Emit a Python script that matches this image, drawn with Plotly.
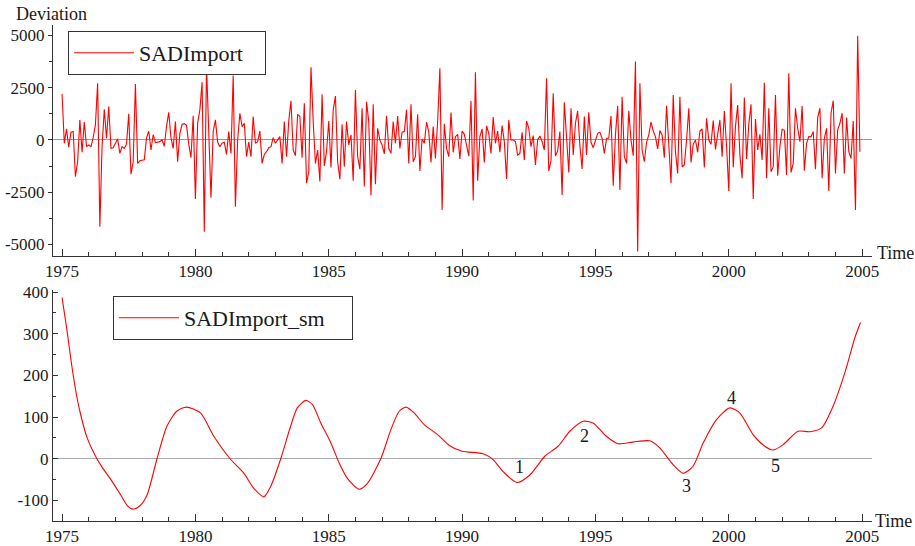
import numpy as np
import plotly.graph_objects as go

# ---------------- data ----------------
sadimport = [
    2200, -160, 530, -350, 370, 410, -1750, -1040, 960, -590,
    860, -320, -240, -320, 110, 720, 2710, -4150, -300, 1470,
    80, 1600, -400, -370, -160, 50, -640, -320, -400, -200,
    1250, -1640, -1050, 2680, -1120, -990, -970, -950, 100, 420,
    -480, 250, -130, -100, -80, 0, -300, 650, 1320, 100,
    -400,
    880, -1040, 300, 750, 780, 700, -200, -850, 1160, -2820,
    800, 1440, 2760, -4390, 3560, 300, -2760, 400, 960, -100,
    -320, -150, -110, -690, 400, -640, 3080, -3190, 0, 1280,
    640, 800, -800, -100, -800, 1120, -160, -80, 430, -1120,
    -690, -560, -370, -320, 110, -160, 0, 160, -1120, 880,
    -800, 900, 1870,
    -480, -750, 1230, 1120, -850, 1750, -2070, -1520, 3480, 880,
    -1120, -480, -1990, 2190, -1240, -560, 910, -1310, 1440, 2100,
    -1040, -1880, 750, -1280, 880, -240, 240, -1950, 2390, -800,
    -1400, 1520, -2230, 1830, 880, -2660, 1710, -2120, 560, 0,
    -240, -670, 1160, -400, -640, 880, -160, 1150, -400, 370,
    400, 1440,
    -1120, 1710, -1040, -800, 1230, -1480, 50, -160, 850, 400,
    -1070, 640, -880, 900, 3430, -3350, 770, -400, -800, 1310,
    -590, 160, 270, -910, 430, 270, -240, -770, 1870, -2900,
    3240, -1950, 160, 530, -1070, 670, 320, -640, 1100, -160,
    430, -590, 690, -80, -1870, 960, 0, 0, -80, -720,
    -640, 370,
    -960, 910, 560, -320, 210, -1200, 0, 190, -80, -480,
    2950, -1480, -1000, 2230, -770, -530, 400, -2630, 1800, 80,
    -1550, 1520, -720, 800, 1390, -270, -1390, 1120, -720, 1320,
    -110, -370, 0, 320, 370, 80, -640, 80, 80, 1150,
    -2190, 240, 1640, -2390, 2070, -800, -1120, 1400, 0, -750,
    3750, -5340,
    2710, -480, -1040, -110, 240, 850, 430, 160, -430, 450,
    240, -850, 1640, -200, -2070, 2150, -560, -1600, 2070, -1280,
    -1200, 0, 1520, -1080, -210, 0, -590, 430, 530, -1320,
    1040, 0, -210, 930, -450, 270, 960, -800, 1390, -300,
    -2440, 2710, -1310, 640, 1670, -720, -1830, 2030, -910, 750,
    1710, -2820,
    1000, -480, 270, -960, 2740, -1830, 1520, -1520, -1280, 2150,
    -1710, -320, 510, 460, -1670, 3190, -1550, -1120, 1520, 560,
    -80, 1630, -1470, -160, 160, 160, 400, -1400, 1070, 1520,
    -1830, 80, 560, -2440, 1280, 1880, -1600, 480, 800, 1280,
    -1600, 1070, -560, -880, 910, -3350, 4990, -560,
]
assert len(sadimport) == 360
start_year = 1975
months = start_year + np.arange(len(sadimport)) / 12.0

sm_years = [1975.0, 1975.18, 1975.36, 1975.55, 1975.7, 1975.93, 1976.24, 1976.5,
            1976.8, 1977.2, 1977.45, 1977.66, 1977.9,
            1978.18, 1978.56, 1978.93, 1979.3, 1979.66, 1980.19, 1980.69, 1981.3,
            1981.82, 1982.19, 1982.57, 1982.82, 1983.2, 1983.57, 1983.82, 1984.14,
            1984.39, 1984.7, 1985.08, 1985.39, 1985.7, 1986.14, 1986.45, 1986.95,
            1987.33, 1987.64, 1987.9, 1988.2, 1988.58, 1989.08, 1989.52, 1990.0,
            1990.79, 1991.16, 1991.54, 1992.06, 1992.54, 1993.1, 1993.6, 1994.04,
            1994.54, 1994.91, 1995.41, 1995.85, 1996.41, 1997.04, 1997.41, 1997.91,
            1998.29, 1998.66, 1999.04, 1999.54, 2000.04, 2000.41, 2000.91, 2001.35,
            2001.66, 2002.04, 2002.6, 2003.04, 2003.48, 2003.91, 2004.35, 2004.73,
            2004.94]
sm_vals = [387, 310, 225, 150, 105, 52, 8, -20,
           -47, -87, -113, -121, -114,
           -88, 0, 78, 114, 124, 110, 54, 0,
           -35, -71, -91, -67, 0, 78, 122, 140,
           130, 86, 38, -10, -47, -73, -59, 0,
           70, 114, 124, 110, 82, 58, 32, 18,
           12, -2, -31, -57, -39, 6, 30, 66,
           90, 86, 54, 36, 40, 43, 26, -14,
           -35, -18, 38, 94, 122, 110, 58, 30,
           21, 34, 66, 65, 74, 126, 206, 291,
           327]
assert len(sm_years) == len(sm_vals)

x_ticks = [1975, 1980, 1985, 1990, 1995, 2000, 2005]
y1_ticks = [-5000, -2500, 0, 2500, 5000]
y1_text = ["-5000", "-2500", "0", "2500", "5000"]
y2_ticks = [-100, 0, 100, 200, 300, 400]
y2_text = ["-100", "0", "100", "200", "300", "400"]

num_labels = ["1", "2", "3", "4", "5"]
num_x = [1992.15, 1994.6, 1998.42, 2000.1, 2001.75]
num_y = [-19, 55, -65, 147, -18]

# ---------------- figure ----------------
FONT = "'Liberation Serif', 'Times New Roman', Times, serif"
AX = "#333333"
TXT = "#1a1a1a"
W, H = 915, 546
L, R = 53, 43

def py(p):  # pixel y -> paper fraction (t=b=0 margins)
    return (H - p) / H

def px(p):
    return (p - L) / (W - L - R)

fig = go.Figure()
fig.add_trace(go.Scatter(
    x=months, y=sadimport, mode="lines", name="SADImport" + "\u00a0" * 3,
    line=dict(color="#ff0000", width=1.1), xaxis="x", yaxis="y", legend="legend"))
fig.add_trace(go.Scatter(
    x=sm_years, y=sm_vals, mode="lines", name="SADImport_sm" + "\u00a0" * 4,
    line=dict(color="#ff0000", width=1.1, shape="spline", smoothing=0.7),
    xaxis="x2", yaxis="y2", legend="legend2"))

xcommon = dict(
    range=[1974.66, 2005.37], tickmode="array", tickvals=x_ticks,
    ticks="inside", ticklen=7, tickcolor=AX, tickwidth=1,
    minor=dict(dtick=1, tick0=1975, ticks="inside", ticklen=4, tickcolor=AX),
    showline=True, linecolor=AX, linewidth=1, showgrid=False, zeroline=False,
    tickfont=dict(family=FONT, size=17, color=TXT), automargin=False,
)
fig.update_layout(
    font=dict(family=FONT, color=TXT),
    xaxis=dict(domain=[0, 1], anchor="y", **xcommon),
    xaxis2=dict(domain=[0, 1], anchor="y2", **xcommon),
    yaxis=dict(domain=[py(256), py(25)], anchor="x", range=[-5550, 5500],
               tickmode="array", tickvals=y1_ticks, ticktext=y1_text,
               ticks="outside", ticklen=4, tickcolor=AX,
               minor=dict(dtick=1250, tick0=0, ticks="outside", ticklen=3, tickcolor=AX),
               showline=True, linecolor=AX, linewidth=1, showgrid=False,
               zeroline=True, zerolinecolor="#999999", zerolinewidth=1,
               tickfont=dict(family=FONT, size=17, color=TXT), automargin=False),
    yaxis2=dict(domain=[py(521), py(290)], anchor="x2", range=[-149.4, 405],
                tickmode="array", tickvals=y2_ticks, ticktext=y2_text,
                ticks="inside", ticklen=5, tickcolor=AX,
                minor=dict(dtick=50, tick0=0, ticks="inside", ticklen=3, tickcolor=AX),
                showline=True, linecolor=AX, linewidth=1, showgrid=False,
                zeroline=True, zerolinecolor="#aaaaaa", zerolinewidth=1.2,
                tickfont=dict(family=FONT, size=17, color=TXT), automargin=False),
    legend=dict(x=px(68), y=py(31), xanchor="left", yanchor="top",
                bordercolor=AX, borderwidth=1, bgcolor="white", itemwidth=60,
                font=dict(family=FONT, size=22, color=TXT)),
    legend2=dict(x=px(113), y=py(296), xanchor="left", yanchor="top",
                 bordercolor=AX, borderwidth=1, bgcolor="white", itemwidth=60,
                 font=dict(family=FONT, size=22, color=TXT)),
    width=W, height=H, margin=dict(l=L, r=R, t=0, b=0),
    paper_bgcolor="white", plot_bgcolor="white", template="none",
    showlegend=True,
)

annotations = [
    dict(text="Deviation", xref="paper", yref="paper", x=px(14), y=py(14),
         xanchor="left", yanchor="middle", showarrow=False,
         font=dict(family=FONT, size=18, color=TXT)),
    dict(text="Time", xref="paper", yref="paper", x=px(875), y=py(253),
         xanchor="left", yanchor="middle", showarrow=False,
         font=dict(family=FONT, size=18, color=TXT)),
    dict(text="Time", xref="paper", yref="paper", x=px(873), y=py(521),
         xanchor="left", yanchor="middle", showarrow=False,
         font=dict(family=FONT, size=18, color=TXT)),
]
for t, xv, yv in zip(num_labels, num_x, num_y):
    annotations.append(dict(text=t, x=xv, y=yv, xref="x2", yref="y2",
                            showarrow=False, xanchor="center", yanchor="middle",
                            font=dict(family=FONT, size=18, color=TXT)))
fig.update_layout(annotations=annotations)

fig.write_html("out.html")
